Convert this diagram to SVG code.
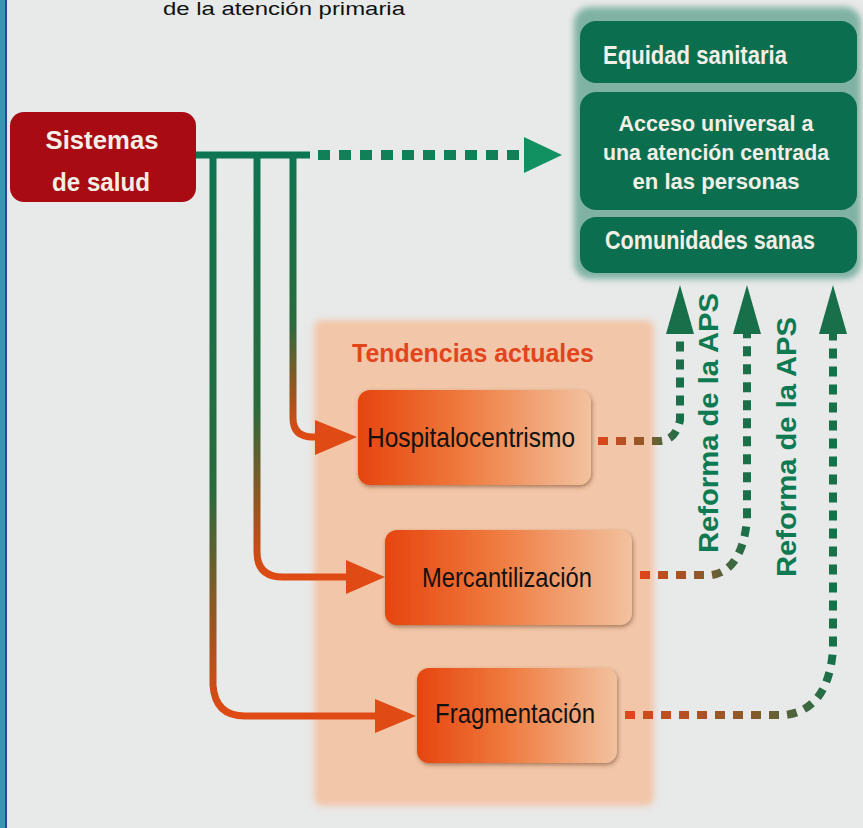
<svg xmlns="http://www.w3.org/2000/svg" width="863" height="828" viewBox="0 0 863 828">
<defs>
<style>
.w{fill:#f3efe6;font-family:"Liberation Sans",Arial,sans-serif;font-weight:bold;font-size:26px;text-anchor:middle}
.w2{fill:#f3efe6;font-family:"Liberation Sans",Arial,sans-serif;font-weight:bold;font-size:22px;text-anchor:middle}
.b{fill:#111;font-family:"Liberation Sans",Arial,sans-serif;font-size:28px;text-anchor:middle}
.g{fill:#0e7a52;font-family:"Liberation Sans",Arial,sans-serif;font-weight:bold;font-size:27px;text-anchor:middle}
.dot{fill:none;stroke-width:8;stroke-dasharray:10 8}
.vl{fill:none;stroke-width:7}
</style>
<linearGradient id="box" x1="0" y1="0" x2="1" y2="0">
<stop offset="0" stop-color="#e6450f"/><stop offset="0.45" stop-color="#ef7a3e"/><stop offset="1" stop-color="#f2c29f"/>
</linearGradient>
<linearGradient id="v1" gradientUnits="userSpaceOnUse" x1="0" y1="155" x2="0" y2="437">
<stop offset="0" stop-color="#0d7552"/><stop offset="0.6" stop-color="#2a6b3c"/><stop offset="0.85" stop-color="#a0541c"/><stop offset="1" stop-color="#e04a14"/>
</linearGradient>
<linearGradient id="v2" gradientUnits="userSpaceOnUse" x1="0" y1="155" x2="0" y2="577">
<stop offset="0" stop-color="#0d7552"/><stop offset="0.6" stop-color="#2a6b3c"/><stop offset="0.85" stop-color="#a0541c"/><stop offset="1" stop-color="#e04a14"/>
</linearGradient>
<linearGradient id="v3" gradientUnits="userSpaceOnUse" x1="0" y1="155" x2="0" y2="715">
<stop offset="0" stop-color="#0d7552"/><stop offset="0.6" stop-color="#2a6b3c"/><stop offset="0.85" stop-color="#a0541c"/><stop offset="1" stop-color="#e04a14"/>
</linearGradient>
<linearGradient id="d1" gradientUnits="userSpaceOnUse" x1="598" y1="0" x2="680" y2="0">
<stop offset="0" stop-color="#e0461a"/><stop offset="0.6" stop-color="#8a5a2a"/><stop offset="1" stop-color="#17704a"/>
</linearGradient>
<linearGradient id="d2" gradientUnits="userSpaceOnUse" x1="640" y1="0" x2="747" y2="0">
<stop offset="0" stop-color="#e0461a"/><stop offset="0.6" stop-color="#8a5a2a"/><stop offset="1" stop-color="#17704a"/>
</linearGradient>
<linearGradient id="d3" gradientUnits="userSpaceOnUse" x1="625" y1="0" x2="833" y2="0">
<stop offset="0" stop-color="#e0461a"/><stop offset="0.6" stop-color="#8a5a2a"/><stop offset="1" stop-color="#17704a"/>
</linearGradient>
<filter id="sh" x="-10%" y="-10%" width="120%" height="130%">
<feDropShadow dx="1" dy="2" stdDeviation="2" flood-color="#6b3a20" flood-opacity="0.55"/>
</filter>
<filter id="soft" x="-5%" y="-5%" width="110%" height="110%">
<feGaussianBlur stdDeviation="3"/>
</filter>
</defs>

<rect x="0" y="0" width="863" height="828" fill="#e8e9e9"/>
<rect x="0" y="0" width="5" height="828" fill="#3a95ae"/>
<rect x="5" y="0" width="2" height="828" fill="#3b3fa3"/>

<text x="284" y="15" font-family="Liberation Sans,Arial,sans-serif" font-size="18" fill="#111" text-anchor="middle" textLength="242" lengthAdjust="spacingAndGlyphs">de la atención primaria</text>

<g id="panel-tendencias">
<rect x="314" y="320" width="340" height="486" rx="8" fill="#f2c6a8" filter="url(#soft)"/>
<text x="473" y="362" font-family="Liberation Sans,Arial,sans-serif" font-weight="bold" font-size="26" fill="#e2451b" text-anchor="middle" textLength="242" lengthAdjust="spacingAndGlyphs">Tendencias actuales</text>
</g>

<g id="resultados">
<rect x="574" y="7" width="287" height="272" rx="16" fill="#7fb2a3" filter="url(#soft)"/>
<g id="equidad">
<rect x="580" y="21" width="277" height="62" rx="16" fill="#0b6e4e"/>
<text class="w" x="695" y="64" textLength="184" lengthAdjust="spacingAndGlyphs">Equidad sanitaria</text>
</g>
<g id="acceso">
<rect x="580" y="92" width="277" height="118" rx="16" fill="#0b6e4e"/>
<text class="w2" x="716" y="131" textLength="195" lengthAdjust="spacingAndGlyphs">Acceso universal a</text>
<text class="w2" x="716" y="160" textLength="226" lengthAdjust="spacingAndGlyphs">una atención centrada</text>
<text class="w2" x="716" y="189" textLength="167" lengthAdjust="spacingAndGlyphs">en las personas</text>
</g>
<g id="comunidades">
<rect x="580" y="217" width="277" height="56" rx="16" fill="#0b6e4e"/>
<text class="w" x="710" y="249" textLength="210" lengthAdjust="spacingAndGlyphs">Comunidades sanas</text>
</g>
</g>

<g id="connectors">
<path class="vl" d="M196,155 H310" stroke="#0d7552"/>
<path d="M318,155 H524" fill="none" stroke="#0f8058" stroke-width="10" stroke-dasharray="12 9"/>
<polygon points="524,137 524,173 562,155" fill="#119162"/>

<path class="vl" d="M293,152 V418 Q293,437 313,437 H325" stroke="url(#v1)"/>
<polygon points="315,420 315,455 357,437" fill="#e04a14"/>
<path class="vl" d="M257,152 V552 Q257,577 283,577 H350" stroke="url(#v2)"/>
<polygon points="346,560 346,594 385,577" fill="#e04a14"/>
<path class="vl" d="M213,152 V685 Q215,716 245,716 H380" stroke="url(#v3)"/>
<polygon points="375,699 375,733 416,716" fill="#e04a14"/>

<path class="dot" d="M598,441 H660 Q676,440 680,420 V333" stroke="url(#d1)"/>
<polygon points="666,334 694,334 680,285" fill="#17704a"/>
<path class="dot" d="M640,575 H712 Q742,570 747,520 V333" stroke="url(#d2)"/>
<polygon points="733,334 761,334 747,285" fill="#17704a"/>
<path class="dot" d="M625,715 H785 Q828,710 833,650 V333" stroke="url(#d3)"/>
<polygon points="819,334 847,334 833,285" fill="#17704a"/>

<text class="g" transform="translate(718,423) rotate(-90)" textLength="260" lengthAdjust="spacingAndGlyphs">Reforma de la APS</text>
<text class="g" transform="translate(796,447) rotate(-90)" textLength="260" lengthAdjust="spacingAndGlyphs">Reforma de la APS</text>
</g>

<g id="sistemas">
<rect x="10" y="112" width="186" height="90" rx="14" fill="#a80b12"/>
<text class="w" x="102" y="149" textLength="113" lengthAdjust="spacingAndGlyphs">Sistemas</text>
<text class="w" x="101" y="191" textLength="98" lengthAdjust="spacingAndGlyphs">de salud</text>
</g>

<g id="hospitalocentrismo">
<rect x="358" y="390" width="233" height="95" rx="12" fill="url(#box)" filter="url(#sh)"/>
<text class="b" x="471" y="447" textLength="208" lengthAdjust="spacingAndGlyphs">Hospitalocentrismo</text>
</g>
<g id="mercantilizacion">
<rect x="385" y="530" width="247" height="95" rx="12" fill="url(#box)" filter="url(#sh)"/>
<text class="b" x="507" y="587" textLength="170" lengthAdjust="spacingAndGlyphs">Mercantilización</text>
</g>
<g id="fragmentacion">
<rect x="417" y="668" width="200" height="95" rx="12" fill="url(#box)" filter="url(#sh)"/>
<text class="b" x="515" y="723" textLength="160" lengthAdjust="spacingAndGlyphs">Fragmentación</text>
</g>
</svg>
